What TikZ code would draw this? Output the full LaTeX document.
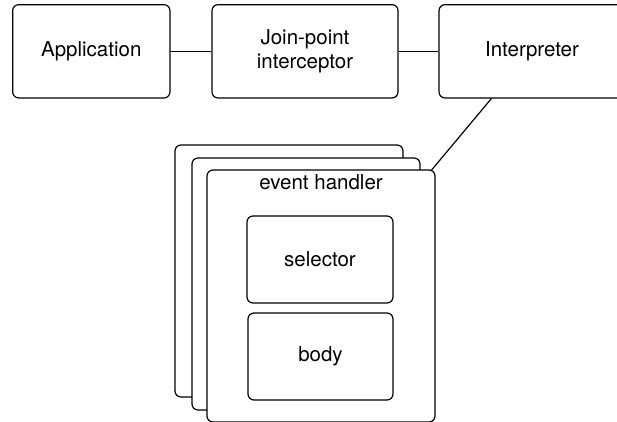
\documentclass[tikz,border=0pt]{standalone}
\usepackage{fontspec}
\setmainfont{TeX Gyre Heros}
\begin{document}
\begin{tikzpicture}[x=1pt,y=-1pt,
  lbl/.style={font=\fontsize{20.5pt}{24.3pt}\selectfont},
  box/.style={lbl, draw=black, line width=1.2pt, rounded corners=6pt, fill=white, inner sep=0pt, align=center},
  link/.style={draw=black, line width=1.2pt}]
\clip (0,0) rectangle (617,421);
\fill[white] (0,0) rectangle (617,421);
% top row
\node[box, minimum width=157.3pt, minimum height=93.3pt] (app) at (91.3,51.3) {Application};
\node[box, minimum width=186pt, minimum height=93.3pt] (jp) at (305,51.3) {Join-point\\interceptor};
\node[box, minimum width=186pt, minimum height=93.3pt] (interp) at (532,51.3) {Interpreter};
% stacked event handlers
\node[box, minimum width=228pt, minimum height=252pt] (back) at (289,271) {};
\node[box, minimum width=228pt, minimum height=252pt] (mid) at (306,284) {};
\node[box, minimum width=228pt, minimum height=252pt] (front) at (321,296) {};
\node[lbl, inner sep=0pt] (ehlabel) at (321,182) {event handler};
\node[box, minimum width=146pt, minimum height=87pt] (sel) at (320,259.5) {selector};
\node[box, minimum width=145pt, minimum height=87pt] (body) at (320.5,356.5) {body};
% connectors
\draw[link] (app) -- (jp);
\draw[link] (jp) -- (interp);
\coordinate (ia) at ([xshift=53pt]interp.south west);
\coordinate (fa) at ([xshift=-4.5pt,yshift=-1.2pt]front.north east);
\draw[link] (ia) -- (fa);
\end{tikzpicture}
\end{document}
